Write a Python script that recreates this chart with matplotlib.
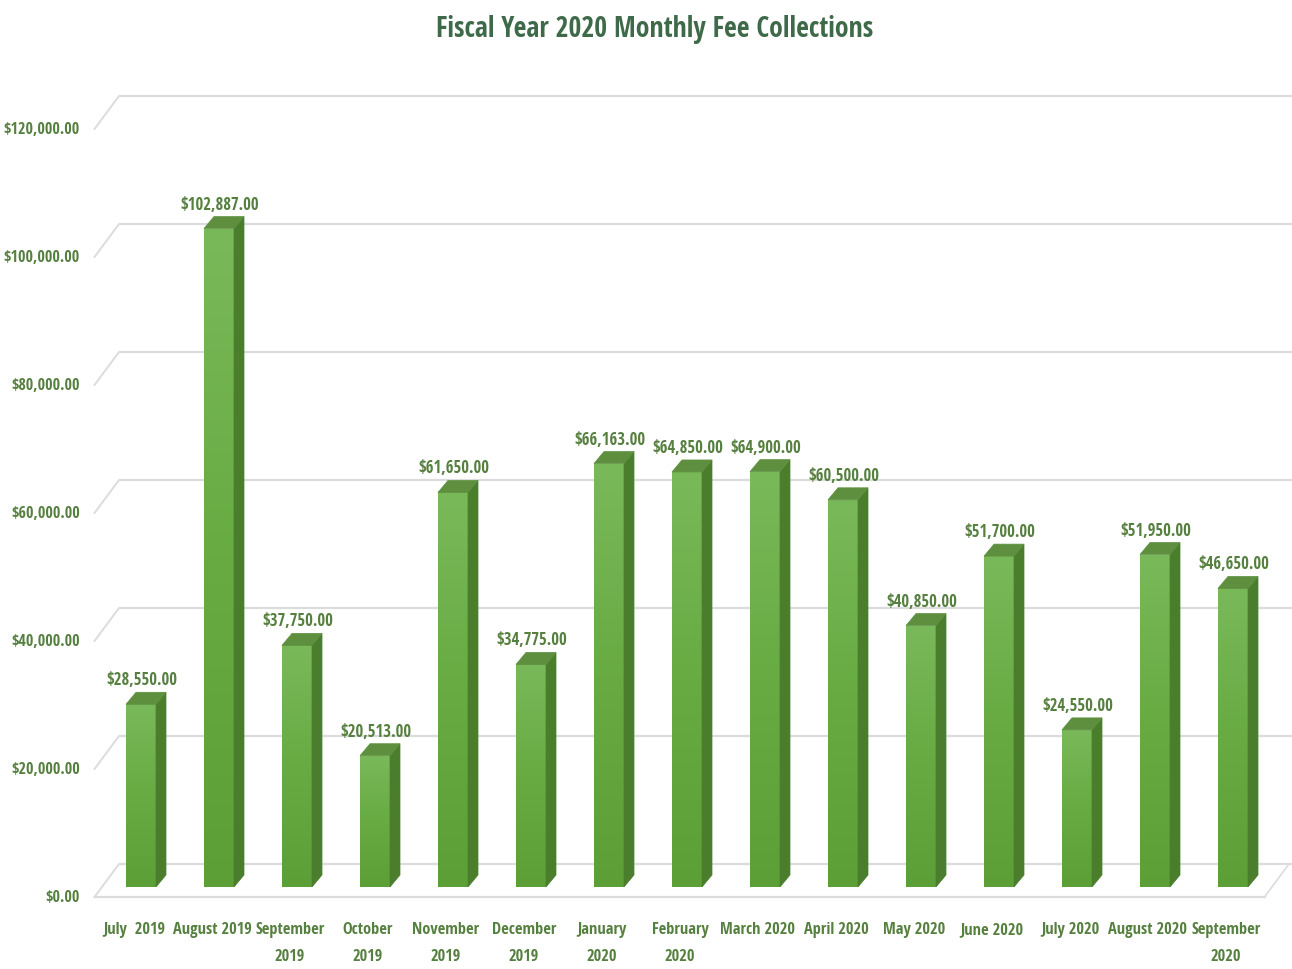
import matplotlib
matplotlib.use("Agg")
import matplotlib.pyplot as plt
from matplotlib.patches import Polygon, Rectangle
from matplotlib.colors import LinearSegmentedColormap
from matplotlib import font_manager as fm
import numpy as np

# ---------------- data ----------------
months = ["July  2019", "August 2019", "September\n2019", "October\n2019", "November\n2019",
          "December\n2019", "January\n2020", "February\n2020", "March 2020", "April 2020",
          "May 2020", "June 2020", "July 2020", "August 2020", "September\n2020"]
values = [28550, 102887, 37750, 20513, 61650, 34775, 66163, 64850, 64900, 60500,
          40850, 51700, 24550, 51950, 46650]
value_labels = ["$28,550.00", "$102,887.00", "$37,750.00", "$20,513.00", "$61,650.00",
                "$34,775.00", "$66,163.00", "$64,850.00", "$64,900.00", "$60,500.00",
                "$40,850.00", "$51,700.00", "$24,550.00", "$51,950.00", "$46,650.00"]
yticks = [0, 20000, 40000, 60000, 80000, 100000, 120000]
ytick_labels = ["$0.00", "$20,000.00", "$40,000.00", "$60,000.00", "$80,000.00",
                "$100,000.00", "$120,000.00"]
title = "Fiscal Year 2020 Monthly Fee Collections"


# ---------------- font selection (condensed bold if available) ----------------
def _stretch_val(s):
    table = {"ultra-condensed": 100, "extra-condensed": 200, "condensed": 300,
             "semi-condensed": 400, "normal": 500}
    if isinstance(s, (int, float)):
        return s
    return table.get(str(s).lower(), 500)


def pick_font():
    best = None
    for f in fm.fontManager.ttflist:
        nm = f.name
        narrow = ("Narrow" in nm or "Condensed" in nm or _stretch_val(f.stretch) < 500
                  or "Condensed" in f.fname or "Narrow" in f.fname)
        w = f.weight if isinstance(f.weight, (int, float)) else (700 if "bold" in str(f.weight).lower() else 400)
        if narrow and w >= 600 and "Oblique" not in f.fname and "Italic" not in f.fname \
                and f.style == "normal":
            if "Liberation" in nm:
                score = 3
            elif "Roboto" in nm or "Open" in nm:
                score = 2
            else:
                score = 1
            if best is None or score > best[0]:
                best = (score, f.fname)
    return best[1] if best else None


FPATH = pick_font()


def fp(size):
    if FPATH:
        return fm.FontProperties(fname=FPATH, size=size)
    return fm.FontProperties(family=["Liberation Sans", "DejaVu Sans"], weight="bold",
                             size=size * 0.85)


# ---------------- layout ----------------
W, H = 1292, 970
TXT = "#56803f"
TITLE_C = "#3f6a49"
GRID = "#dcdcdc"

fig = plt.figure(figsize=(W / 100, H / 100), dpi=100)
fig.patch.set_facecolor("white")

PX_X = 78.0          # pixels per category
X0 = 141.0           # pixel x of first bar centre
xlim = (-0.6, 14.7)
YTOP = 125000
AX_H = 800.0         # pixels
BASE = 82.0          # pixels from bottom for value 0 (bar plane)
left_px = X0 + xlim[0] * PX_X
right_px = X0 + xlim[1] * PX_X
ax = fig.add_axes([left_px / W, BASE / H, (right_px - left_px) / W, AX_H / H])
ax.set_xlim(*xlim)
ax.set_ylim(0, YTOP)
ax.axis("off")

UY = YTOP / AX_H     # data units per pixel vertically


def dx(px):
    return px / PX_X


def dy(px):
    return px * UY


BACK = (17.0, 23.0)
FRONT = (-7.5, -10.0)
XL, XR = -0.5, 14.5

for v in yticks:
    ax.plot([XL + dx(BACK[0]), XR + dx(BACK[0]) + 0.3], [v + dy(BACK[1])] * 2,
            color=GRID, lw=1.6, zorder=1, clip_on=False, solid_capstyle="butt")
    ax.plot([XL + dx(FRONT[0]), XL + dx(BACK[0])],
            [v + dy(FRONT[1]), v + dy(BACK[1])], color=GRID, lw=1.4, zorder=1, clip_on=False)
ax.plot([XL + dx(FRONT[0]), XR + dx(FRONT[0])], [dy(FRONT[1])] * 2, color=GRID, lw=1.6,
        zorder=1, clip_on=False)
ax.plot([XR + dx(FRONT[0]), XR + dx(BACK[0])], [dy(FRONT[1]), dy(BACK[1])], color=GRID,
        lw=1.2, zorder=1, clip_on=False)

for v, lab in zip(yticks, ytick_labels):
    fig.text(80 / W, (BASE + FRONT[1] + v / UY) / H, lab, ha="right", va="center",
             fontproperties=fp(11.5), color=TXT)

BW = 30.0 / PX_X
DDX, DDY = dx(10), dy(12)
cmap = LinearSegmentedColormap.from_list("g", ["#5c9f37", "#67ab42", "#7ab95a"])
grad = np.linspace(0, 1, 256).reshape(-1, 1)
for i, (v, lab) in enumerate(zip(values, value_labels)):
    xl, xr = i - BW / 2, i + BW / 2
    rect = Rectangle((xl, 0), BW, v, facecolor="none", edgecolor="none", zorder=3)
    ax.add_patch(rect)
    im = ax.imshow(grad, extent=[xl, xr, 0, v], origin="lower", cmap=cmap,
                   aspect="auto", zorder=3, interpolation="bilinear")
    im.set_clip_path(rect)
    side = Polygon([(xr, 0), (xr + DDX, DDY), (xr + DDX, v + DDY), (xr, v)],
                   closed=True, facecolor="#4a7d2c", edgecolor="#4a7d2c", lw=0.5, zorder=3)
    top = Polygon([(xl, v), (xr, v), (xr + DDX, v + DDY), (xl + DDX, v + DDY)],
                  closed=True, facecolor="#5d8f3f", edgecolor="#5d8f3f", lw=0.5, zorder=3)
    ax.add_patch(side)
    ax.add_patch(top)
    ax.text(i + dx(1), v + DDY + dy(4), lab, ha="center", va="bottom",
            fontproperties=fp(12), color=TXT, zorder=5)
    ax.text(i - dx(7), dy(-34), months[i], ha="center", va="top",
            fontproperties=fp(11.8), color=TXT, linespacing=1.95, clip_on=False)

ax.set_xlim(*xlim)
ax.set_ylim(0, YTOP)

fig.text(655 / W, 1 - 29 / H, title, ha="center", va="center", fontproperties=fp(20),
         color=TITLE_C)

fig.savefig("out.png", dpi=100, facecolor="white")
